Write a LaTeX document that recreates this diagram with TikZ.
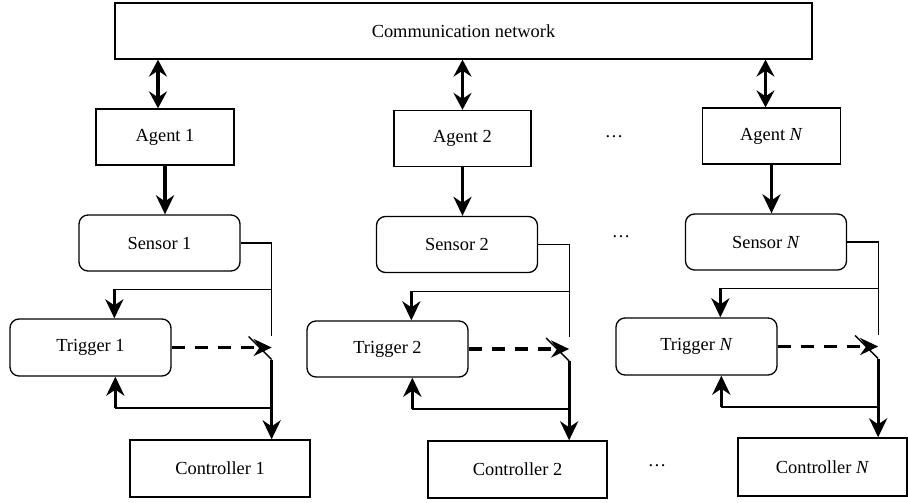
\documentclass[tikz,border=0pt]{standalone}
\usepackage{fontspec}
\setmainfont{Liberation Serif}
\usetikzlibrary{calc,arrows.meta}

\tikzset{
  sqbox/.style={draw, line width=1.3pt, inner sep=0pt, minimum height=56pt},
  rdbox/.style={sqbox, rounded corners=9pt, minimum width=161pt},
  wire/.style={line width=1.3pt},
  flow/.style={line width=3.2pt, -{Stealth[length=19pt,width=18pt,inset=6pt]}},
  bothway/.style={line width=3.2pt, {Stealth[length=17pt,width=18pt,inset=6pt]}-{Stealth[length=17pt,width=18pt,inset=6pt]}},
  signal/.style={line width=3.5pt, dash pattern=on 13pt off 10pt, -{Stealth[length=18pt,width=17pt,inset=6pt]}}
}

\begin{document}
\begin{tikzpicture}[x=1pt, y=-1pt, font=\fontsize{18.4}{22}\selectfont]
  \useasboundingbox (0,0) rectangle (908,503);

  % network and agents
  \node[sqbox, minimum width=697pt] (net) at (463.5,31) {Communication network};
  \node[sqbox, minimum width=138pt] (ag1) at (165,137) {Agent 1};
  \node[sqbox, minimum width=137pt] (ag2) at (462.5,138.5) {Agent 2};
  \node[sqbox, minimum width=138pt] (agN) at (771.5,136) {Agent \textit{N}};

  % sensors, triggers, controllers
  \node[rdbox] (se1) at (159.5,243) {Sensor 1};
  \node[rdbox] (se2) at (457,244.5) {Sensor 2};
  \node[rdbox] (seN) at (766,242) {Sensor \textit{N}};
  \node[rdbox, minimum height=57pt] (tr1) at (90.5,347.5) {Trigger 1};
  \node[rdbox] (tr2) at (387.5,349) {Trigger 2};
  \node[rdbox, minimum height=57pt] (trN) at (696.5,346.5) {Trigger \textit{N}};
  \node[sqbox, minimum width=180pt, minimum height=57pt] (co1) at (220,468.5) {Controller 1};
  \node[sqbox, minimum width=179pt, minimum height=57pt] (co2) at (517.5,469.5) {Controller 2};
  \node[sqbox, minimum width=169pt, minimum height=58pt] (coN) at (822.5,467) {Controller \textit{N}};

  \node (dots1) at (614,137) {…};
  \node (dots2) at (621,237) {…};
  \node (dots3) at (657,466) {…};

  % links to the network
  \draw[bothway] ([xshift=-7pt]ag1.north |- net.south) -- ([xshift=-7pt]ag1.north);
  \draw[bothway] (ag2.north |- net.south) -- (ag2.north);
  \draw[bothway] ([xshift=-6pt]agN.north |- net.south) -- ([xshift=-6pt]agN.north);

  \foreach \k in {1,2,N} {
    \draw[flow] (ag\k.south) -- (ag\k.south |- se\k.north);
    % switch and feedback lines
    \path (se\k.east) ++(31,0) coordinate (c\k);
    \path (tr\k.east) ++(0,-12) coordinate (a\k) ++(0,24) coordinate (b\k);
    \coordinate (sa\k) at (c\k |- a\k);
    \coordinate (sb\k) at (c\k |- b\k);
    \path (tr\k.north west) ++(105,-29) coordinate (ti\k);
    \path (tr\k.south west) ++(106,31) coordinate (to\k);
    \draw[wire] (se\k.east) -| (sa\k);
    \draw[wire] (c\k |- ti\k) -- (ti\k);
    \draw[flow] (ti\k) -- (tr\k.north -| ti\k);
    \draw[signal] (tr\k.east) -- (c\k |- tr\k.east);
    \draw[wire] (sb\k) -- ++(-23,-23);
    \draw[flow] (sb\k) -- (sb\k |- co\k.north);
    \draw[line width=2.2pt] (sb\k |- to\k) -- (to\k);
    \draw[flow] (to\k) -- (tr\k.south -| to\k);
  }
\end{tikzpicture}
\end{document}
